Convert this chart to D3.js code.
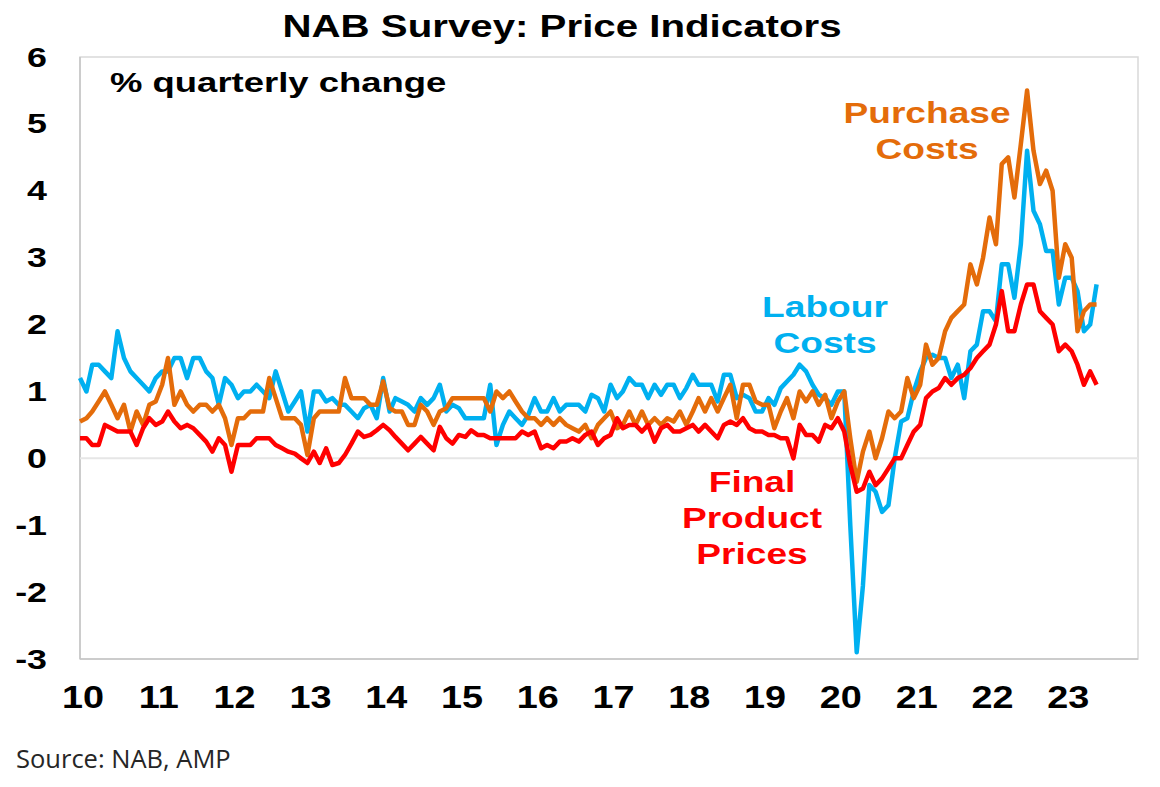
<!DOCTYPE html>
<html>
<head>
<meta charset="utf-8">
<script src="https://cdn.jsdelivr.net/npm/d3@7/dist/d3.min.js"></script>
<style>
  html, body { margin: 0; padding: 0; background: #fff; }
  svg { display: block; }
  .b { font-family: "Liberation Sans", Arial, sans-serif; font-weight: bold; }
</style>
</head>
<body>
<svg id="chart" width="1160" height="787"></svg>
<script>
// ---- Data (monthly, Jan 2010 – Jun 2023), % quarterly change ----
const startMonth = new Date(2010, 0, 1);

const labourCosts = [
  1.2,1.0,1.4,1.4,1.3,1.2,1.9,1.5,1.3,1.2,1.1,1.0,1.2,1.3,1.3,1.5,1.5,1.2,1.5,1.5,1.3,1.2,0.8,1.2,1.1,0.9,1.0,1.0,1.1,1.0,0.9,1.3,
  1.0,0.7,0.85,1.0,0.4,1.0,1.0,0.85,0.9,0.8,0.8,0.7,0.6,0.75,0.8,0.6,1.2,0.7,0.9,0.85,0.8,0.7,0.9,0.8,0.9,1.1,0.7,0.8,0.75,0.6,0.6,
  0.6,0.6,1.1,0.2,0.5,0.7,0.6,0.5,0.65,0.9,0.7,0.7,0.9,0.7,0.8,0.8,0.8,0.7,0.95,0.9,0.7,1.1,0.9,1.0,1.2,1.1,1.1,0.9,1.1,0.95,1.1,
  1.1,0.9,1.05,1.25,1.1,1.1,1.1,0.85,1.25,1.25,0.9,0.95,0.9,0.7,0.7,0.9,0.8,1.05,1.15,1.25,1.4,1.3,1.1,0.95,0.9,0.8,1.0,1.0,
  -1.0,-2.9,-1.9,-0.4,-0.5,-0.8,-0.7,0.0,0.55,0.6,1.0,1.3,1.5,1.55,1.5,1.5,1.2,1.4,0.9,1.6,1.7,2.2,2.2,2.05,2.9,2.9,2.4,3.2,4.6,3.7,3.5,3.1,3.1,2.3,2.7,2.7,2.5,1.9,2.0,2.6
];

const purchaseCosts = [
  0.55,0.6,0.7,0.85,1.0,0.8,0.6,0.8,0.4,0.7,0.5,0.8,0.85,1.1,1.5,0.8,1.0,0.8,0.7,0.8,0.8,0.7,0.8,0.6,0.2,0.6,0.6,0.7,0.7,0.7,1.2,0.9,
  0.6,0.6,0.6,0.5,0.05,0.6,0.7,0.7,0.7,0.7,1.2,0.9,0.9,0.9,0.8,0.8,1.15,0.75,0.7,0.7,0.5,0.5,0.8,0.7,0.5,0.7,0.75,0.9,0.9,0.9,0.9,
  0.9,0.9,0.7,1.0,0.9,1.0,0.85,0.7,0.6,0.6,0.5,0.6,0.5,0.6,0.5,0.45,0.4,0.5,0.3,0.5,0.6,0.7,0.45,0.5,0.7,0.5,0.7,0.5,0.6,0.5,0.6,
  0.55,0.7,0.5,0.7,0.9,0.7,0.9,0.7,0.9,1.1,0.6,1.1,1.1,0.85,0.8,0.8,0.45,0.7,0.9,0.6,1.0,0.85,1.0,0.8,0.95,0.6,0.85,1.0,
  0.3,-0.35,0.1,0.4,0.0,0.3,0.7,0.6,0.7,1.2,0.9,1.1,1.7,1.4,1.5,1.9,2.1,2.2,2.3,2.9,2.6,3.0,3.6,3.2,4.4,4.5,3.9,4.7,5.5,4.6,4.1,4.3,4.0,2.7,3.2,3.0,1.9,2.2,2.3,2.3
];

const finalPrices = [
  0.3,0.3,0.2,0.2,0.5,0.45,0.4,0.4,0.4,0.2,0.45,0.6,0.5,0.55,0.7,0.55,0.45,0.5,0.45,0.35,0.25,0.1,0.3,0.2,-0.2,0.2,0.2,0.2,0.3,0.3,0.3,0.2,
  0.15,0.1,0.07,0.0,-0.07,0.1,-0.07,0.15,-0.1,-0.07,0.05,0.22,0.4,0.32,0.35,0.42,0.5,0.42,0.32,0.22,0.12,0.22,0.32,0.22,0.12,0.47,0.3,0.22,0.35,0.32,0.42,
  0.35,0.35,0.3,0.3,0.3,0.3,0.3,0.4,0.35,0.4,0.15,0.2,0.15,0.25,0.25,0.3,0.25,0.35,0.4,0.2,0.3,0.35,0.6,0.45,0.5,0.5,0.4,0.5,0.25,0.45,0.5,
  0.4,0.4,0.45,0.5,0.4,0.5,0.4,0.3,0.5,0.55,0.5,0.6,0.45,0.4,0.4,0.35,0.35,0.3,0.3,0.0,0.5,0.35,0.35,0.25,0.5,0.45,0.6,0.4,
  -0.1,-0.5,-0.45,-0.2,-0.4,-0.3,-0.15,0.0,0.0,0.2,0.4,0.5,0.9,1.0,1.05,1.2,1.1,1.2,1.25,1.35,1.5,1.6,1.7,2.0,2.5,1.9,1.9,2.3,2.6,2.6,2.2,2.1,2.0,1.6,1.7,1.6,1.4,1.1,1.3,1.1
];

const tickYears  = [2010,2011,2012,2013,2014,2015,2016,2017,2018,2019,2020,2021,2022,2023];
const tickLabels = ["10","11","12","13","14","15","16","17","18","19","20","21","22","23"];
const yTicks     = [-3,-2,-1,0,1,2,3,4,5,6];

// ---- Layout ----
const svg = d3.select("#chart");
const L = 80, R = 1138, T = 57, B = 659;
const SX = 1.28; // horizontal text stretch seen in the reference

const months = labourCosts.map((_, i) => d3.timeMonth.offset(startMonth, i));

const x = d3.scaleTime()
  .domain([new Date(2010, 0, 1), new Date(2024, 0, 1)])
  .range([L, R + 3]);
const y = d3.scaleLinear().domain([-3, 6]).range([B, T]);

// plot frame
svg.append("rect")
  .attr("x", L).attr("y", T).attr("width", R - L).attr("height", B - T)
  .attr("fill", "none").attr("stroke", "#d9d9d9").attr("stroke-width", 1.5);
svg.append("line").attr("x1", L).attr("x2", L).attr("y1", T).attr("y2", B)
  .attr("stroke", "#c4c4c4").attr("stroke-width", 1.5);
svg.append("line").attr("x1", L).attr("x2", R).attr("y1", B).attr("y2", B)
  .attr("stroke", "#c4c4c4").attr("stroke-width", 1.5);

// zero line
svg.append("line")
  .attr("x1", L).attr("x2", R).attr("y1", y(0)).attr("y2", y(0))
  .attr("stroke", "#e6e6e6").attr("stroke-width", 2);

// y labels
svg.append("g").selectAll("text").data(yTicks).join("text")
  .attr("class", "b")
  .attr("transform", d => `translate(47,${y(d)}) scale(${SX},1)`)
  .attr("text-anchor", "end")
  .attr("dominant-baseline", "central")
  .attr("font-size", 28)
  .attr("fill", "#000")
  .text(d => d);

// x labels
svg.append("g").selectAll("text").data(tickYears).join("text")
  .attr("class", "b")
  .attr("transform", (d) => `translate(${x(new Date(d, 0, 1)) + 3},708) scale(1.22,1)`)
  .attr("text-anchor", "middle")
  .attr("font-size", 31)
  .attr("fill", "#000")
  .text((d, i) => tickLabels[i]);

// lines
const line = d3.line()
  .x((d, i) => x(months[i]))
  .y(d => y(d))
  .curve(d3.curveLinear);

const series = [
  { values: labourCosts,   color: "#00B0F0" },
  { values: purchaseCosts, color: "#E46C0A" },
  { values: finalPrices,   color: "#FF0000" }
];
svg.append("g").selectAll("path").data(series).join("path")
  .attr("d", s => line(s.values))
  .attr("fill", "none")
  .attr("stroke", s => s.color)
  .attr("stroke-width", 4.5)
  .attr("stroke-linejoin", "round")
  .attr("stroke-linecap", "butt");

// title
svg.append("text").attr("class", "b")
  .attr("transform", `translate(562,37) scale(1.32,1)`)
  .attr("text-anchor", "middle").attr("font-size", 30.5).attr("fill", "#000")
  .text("NAB Survey: Price Indicators");

// unit label
svg.append("text").attr("class", "b")
  .attr("transform", `translate(110,92) scale(${SX},1)`)
  .attr("font-size", 28.5).attr("fill", "#000")
  .text("% quarterly change");

// series annotations
const notes = [
  { lines: ["Purchase", "Costs"], cx: 927, by: 123, color: "#E46C0A" },
  { lines: ["Labour", "Costs"], cx: 825, by: 317, color: "#00B0F0" },
  { lines: ["Final", "Product", "Prices"], cx: 752, by: 492, color: "#FF0000" }
];
notes.forEach(n => {
  n.lines.forEach((t, k) => {
    svg.append("text").attr("class", "b")
      .attr("transform", `translate(${n.cx},${n.by + k * 36}) scale(${SX},1)`)
      .attr("text-anchor", "middle").attr("font-size", 29)
      .attr("fill", n.color)
      .text(t);
  });
});

// source
svg.append("text")
  .attr("x", 16).attr("y", 768)
  .attr("font-family", "'Open Sans', 'Noto Sans', sans-serif")
  .attr("font-size", 25.5).attr("fill", "#262626")
  .text("Source: NAB, AMP");
</script>
</body>
</html>
